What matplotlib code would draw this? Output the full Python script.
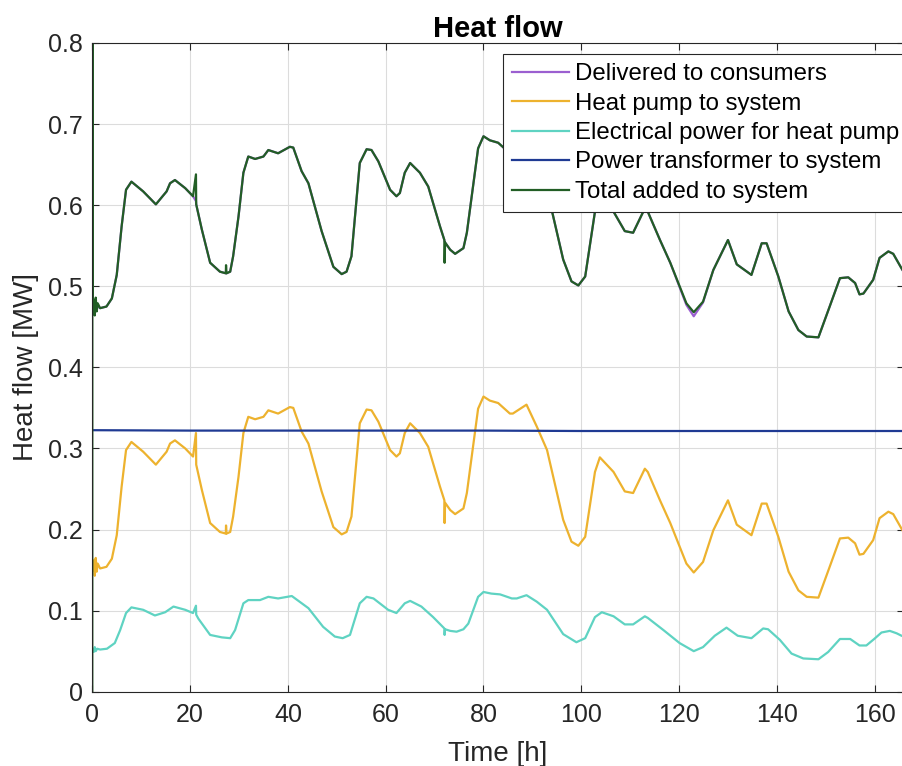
import numpy as np
import matplotlib
matplotlib.use("Agg")
import matplotlib.pyplot as plt

plt.rcParams['font.family'] = ['Liberation Sans', 'DejaVu Sans']

# time axis [h] for heat pump / total curves
t_hp = [0.1, 0.3, 0.5, 0.7, 0.9, 1.1, 1.6, 2.9, 4.0, 5.0,
        6.0, 6.9, 8.0, 10.4, 13.0, 15.2, 15.9, 16.9, 19.0, 20.6,
        21.2, 21.25, 22.4, 24.1, 26.1, 27.3, 27.35, 27.45, 28.2, 28.8,
        29.9, 30.9, 31.9, 33.3, 35.0, 36.0, 38.0, 40.4, 41.1, 42.8,
        44.2, 46.9, 49.3, 51.0, 52.0, 53.0, 54.7, 56.1, 57.1, 58.5,
        60.9, 62.2, 62.9, 63.9, 65.0, 67.0, 68.7, 71.1, 72.0, 72.05,
        72.15, 73.2, 74.2, 75.9, 76.6, 78.9, 80.0, 81.3, 83.0, 85.4,
        86.0, 88.8, 90.9, 93.0, 96.3, 98.0, 99.4, 100.8, 102.8, 103.8,
        106.6, 108.9, 110.6, 113.0, 113.6, 116.1, 118.2, 121.5, 123.0, 124.9,
        127.0, 130.0, 131.8, 134.8, 136.9, 137.9, 140.3, 142.4, 144.4, 146.1,
        148.5, 150.8, 152.9, 154.6, 156.0, 156.9, 157.7, 159.7, 161.0, 162.8,
        163.8, 165.5, 166.0]

heat_pump = [0.150, 0.162, 0.143, 0.165, 0.148, 0.158, 0.152, 0.154, 0.164, 0.193,
             0.253, 0.298, 0.308, 0.296, 0.280, 0.296, 0.306, 0.310, 0.300, 0.290,
             0.319, 0.280, 0.249, 0.208, 0.197, 0.195, 0.205, 0.195, 0.197, 0.216,
             0.265, 0.319, 0.339, 0.336, 0.339, 0.347, 0.343, 0.351, 0.350, 0.321,
             0.306, 0.247, 0.203, 0.194, 0.197, 0.216, 0.331, 0.348, 0.347, 0.333,
             0.298, 0.290, 0.294, 0.319, 0.331, 0.319, 0.302, 0.253, 0.236, 0.208,
             0.233, 0.224, 0.219, 0.226, 0.245, 0.349, 0.364, 0.359, 0.356, 0.343,
             0.343, 0.354, 0.327, 0.298, 0.212, 0.185, 0.180, 0.191, 0.271, 0.289,
             0.271, 0.247, 0.245, 0.275, 0.271, 0.236, 0.208, 0.158, 0.147, 0.160,
             0.199, 0.236, 0.206, 0.193, 0.232, 0.232, 0.191, 0.148, 0.125, 0.117,
             0.116, 0.154, 0.189, 0.190, 0.183, 0.169, 0.170, 0.187, 0.214, 0.222,
             0.219, 0.201, 0.196]

# total added: start-up spike at t=0 then same time axis as heat pump
t_start = [0.0, 0.02]
total_start = [0.0, 1.0]
total = [0.471, 0.483, 0.464, 0.486, 0.469, 0.479, 0.473, 0.475, 0.485, 0.514,
         0.574, 0.619, 0.629, 0.617, 0.601, 0.617, 0.627, 0.631, 0.621, 0.611,
         0.638, 0.601, 0.570, 0.529, 0.518, 0.516, 0.526, 0.516, 0.518, 0.537,
         0.586, 0.640, 0.660, 0.657, 0.660, 0.668, 0.664, 0.672, 0.671, 0.642,
         0.627, 0.568, 0.524, 0.515, 0.518, 0.537, 0.652, 0.669, 0.668, 0.654,
         0.619, 0.611, 0.615, 0.640, 0.652, 0.640, 0.623, 0.574, 0.557, 0.529,
         0.554, 0.545, 0.540, 0.547, 0.566, 0.670, 0.685, 0.680, 0.677, 0.664,
         0.664, 0.675, 0.648, 0.619, 0.533, 0.506, 0.501, 0.512, 0.592, 0.610,
         0.592, 0.568, 0.566, 0.596, 0.592, 0.557, 0.529, 0.479, 0.468, 0.481,
         0.520, 0.557, 0.527, 0.514, 0.553, 0.553, 0.512, 0.469, 0.446, 0.438,
         0.437, 0.475, 0.510, 0.511, 0.504, 0.490, 0.491, 0.508, 0.535, 0.543,
         0.540, 0.522, 0.517]

delivered = [0.475, 0.475, 0.475, 0.475, 0.475, 0.475, 0.473, 0.475, 0.485, 0.514,
             0.574, 0.619, 0.629, 0.617, 0.601, 0.617, 0.627, 0.631, 0.621, 0.611,
             0.605, 0.601, 0.570, 0.529, 0.518, 0.516, 0.516, 0.516, 0.518, 0.537,
             0.586, 0.640, 0.660, 0.657, 0.660, 0.668, 0.664, 0.672, 0.671, 0.642,
             0.627, 0.568, 0.524, 0.515, 0.518, 0.537, 0.652, 0.669, 0.668, 0.654,
             0.619, 0.611, 0.615, 0.640, 0.652, 0.640, 0.623, 0.574, 0.557, 0.555,
             0.554, 0.545, 0.540, 0.547, 0.566, 0.670, 0.685, 0.680, 0.677, 0.664,
             0.664, 0.675, 0.648, 0.619, 0.533, 0.506, 0.501, 0.512, 0.592, 0.610,
             0.592, 0.568, 0.566, 0.596, 0.592, 0.557, 0.529, 0.477, 0.463, 0.480,
             0.520, 0.557, 0.527, 0.514, 0.553, 0.553, 0.512, 0.469, 0.446, 0.438,
             0.437, 0.475, 0.510, 0.511, 0.504, 0.490, 0.491, 0.508, 0.535, 0.543,
             0.540, 0.522, 0.517]

# electrical power for heat pump
t_el = [0.1, 0.3, 0.5, 0.7, 1.0, 1.6, 3.0, 4.6, 5.7, 6.9,
        8.0, 10.4, 12.8, 14.9, 16.6, 19.0, 20.6, 21.2, 21.25, 21.7,
        24.1, 26.5, 28.2, 29.2, 30.9, 31.9, 34.3, 36.0, 38.0, 40.8,
        44.2, 47.2, 49.6, 51.2, 52.7, 54.7, 56.1, 57.5, 60.5, 62.2,
        63.9, 65.0, 67.3, 69.7, 72.0, 72.05, 72.15, 73.2, 74.5, 75.9,
        76.9, 78.9, 80.0, 81.6, 83.4, 85.8, 86.8, 88.8, 90.9, 93.0,
        96.3, 99.0, 100.8, 102.8, 104.2, 106.6, 108.9, 110.6, 113.0, 113.6,
        116.8, 120.1, 123.0, 124.9, 127.3, 129.7, 132.0, 134.8, 137.2, 138.2,
        140.6, 143.0, 145.4, 148.5, 150.5, 152.9, 155.0, 156.9, 158.3, 159.9,
        161.4, 163.1, 164.5, 165.5, 166.0]
electrical = [0.052, 0.049, 0.055, 0.050, 0.053, 0.052, 0.053, 0.060, 0.076, 0.097,
              0.104, 0.101, 0.094, 0.098, 0.105, 0.101, 0.097, 0.106, 0.095, 0.090,
              0.070, 0.067, 0.066, 0.076, 0.109, 0.113, 0.113, 0.117, 0.115, 0.118,
              0.103, 0.080, 0.068, 0.066, 0.070, 0.109, 0.117, 0.115, 0.101, 0.097,
              0.109, 0.112, 0.105, 0.092, 0.078, 0.070, 0.077, 0.075, 0.074, 0.077,
              0.084, 0.117, 0.123, 0.121, 0.120, 0.115, 0.115, 0.119, 0.111, 0.101,
              0.071, 0.061, 0.066, 0.092, 0.098, 0.093, 0.083, 0.083, 0.093, 0.091,
              0.076, 0.060, 0.050, 0.055, 0.069, 0.079, 0.069, 0.066, 0.078, 0.077,
              0.064, 0.047, 0.041, 0.040, 0.049, 0.065, 0.065, 0.057, 0.057, 0.065,
              0.073, 0.075, 0.072, 0.069, 0.068]

# power transformer to system (nearly constant)
t_tr = [0.1, 20, 40, 60, 80, 100, 120, 140, 166]
transformer = [0.3225, 0.322, 0.322, 0.322, 0.322, 0.3215, 0.3215, 0.3215, 0.3215]

labels = ["Delivered to consumers", "Heat pump to system",
          "Electrical power for heat pump", "Power transformer to system",
          "Total added to system"]
colors = ["#9B5FD0", "#EDB22E", "#5FD3C2", "#1F3A93", "#225E25"]

W, H = 902, 766
fig = plt.figure(figsize=(W / 100, H / 100), dpi=100)
ax = fig.add_axes([92.3 / W, 74.3 / H, (904 - 92.3) / W, 648.7 / H])

lw = 1.6
ax.plot(t_hp, delivered, color=colors[0], lw=lw, label=labels[0])
ax.plot(t_hp, heat_pump, color=colors[1], lw=lw, label=labels[1])
ax.plot(t_el, electrical, color=colors[2], lw=lw, label=labels[2])
ax.plot(t_tr, transformer, color=colors[3], lw=lw, label=labels[3])
ax.plot(np.concatenate([t_start, t_hp]), np.concatenate([total_start, total]),
        color=colors[4], lw=lw, label=labels[4])

ax.set_xlim(0, 166)
ax.set_ylim(0, 0.8)
ax.set_xticks(np.arange(0, 161, 20))
ax.set_yticks(np.arange(0, 0.81, 0.1))
ax.set_yticklabels(["0", "0.1", "0.2", "0.3", "0.4", "0.5", "0.6", "0.7", "0.8"])
ax.grid(True, color="#DCDCDC", lw=0.8)
ax.set_axisbelow(True)
ax.tick_params(direction="in", top=True, right=True, length=5, width=0.8,
               labelsize=18, colors="#262626")
ax.tick_params(axis="x", pad=8)
ax.tick_params(axis="y", pad=7)
for sp in ax.spines.values():
    sp.set_color("#262626")
    sp.set_linewidth(0.8)

ax.set_title("Heat flow", fontsize=21, fontweight="bold", pad=4)
ax.set_xlabel("Time [h]", fontsize=20, color="#262626", labelpad=10)
ax.set_ylabel("Heat flow [MW]", fontsize=20, color="#262626", labelpad=6)

leg = ax.legend(loc="upper left", bbox_to_anchor=(503 / W, 1 - 54 / H),
                bbox_transform=fig.transFigure, fontsize=17.3, frameon=True,
                fancybox=False, framealpha=1, borderaxespad=0, borderpad=0.38,
                handlelength=2.35, handletextpad=0.25, labelspacing=0.31)
leg.get_frame().set_edgecolor("#262626")
leg.get_frame().set_linewidth(0.8)
for l in leg.get_lines():
    l.set_linewidth(1.6)

fig.savefig("out.png", dpi=100)
